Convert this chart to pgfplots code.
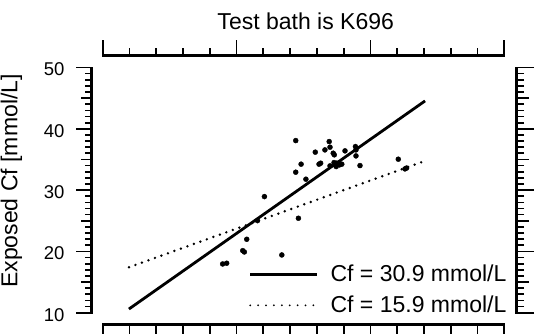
\documentclass[border=0pt]{standalone}
\usepackage{fontspec}
\setmainfont{Liberation Sans}
\usepackage{pgfplots}
\pgfplotsset{compat=1.18}
\usepackage{pgfplotstable}
\pgfplotstableread{
x y
7.21 38.08
8.46 37.92
8.49 37.00
8.30 36.56
7.94 36.19
8.61 36.02
8.65 35.75
9.05 36.40
9.44 37.10
9.46 36.56
9.46 35.58
7.41 34.23
8.08 34.23
8.14 34.39
8.49 33.95
8.64 34.49
8.74 34.39
8.72 33.84
8.84 34.11
8.93 34.23
9.61 34.00
7.21 32.92
7.59 31.78
11.04 35.04
11.29 33.46
11.35 33.60
6.04 28.94
7.31 25.41
5.78 25.02
5.38 21.98
5.23 20.12
5.29 19.91
6.69 19.42
4.48 17.95
4.63 18.07
}\pts
\pgfplotsset{
  ruler/.style={scale only axis, axis line style={line width=1.7pt},
    tick style={black, line width=1.7pt}, tick align=outside,
    /pgf/number format/assume math mode=true}
}
\begin{document}
\begin{tikzpicture}
% data axis
\begin{axis}[at={(102.7pt,20.3pt)}, anchor=south west, scale only axis,
  width=401.6pt, height=245.2pt, xmin=0, xmax=15, ymin=10, ymax=50,
  hide axis, clip=false,
  legend style={draw=none, fill=none, at={(axis cs:5.45,13.75)}, anchor=west,
    font=\fontsize{23}{27}\selectfont, row sep=9pt, column sep=10pt, inner sep=0pt},
  legend cell align=left,
  legend image code/.code={\draw[#1] (0pt,0pt) -- (67pt,0pt);}]
\addplot[only marks, mark=*, mark size=2.5pt, black, forget plot] table[x=x,y=y]{\pts};
\addplot[black, line width=2.8pt, forget plot] coordinates {(0.98,10.6) (12.04,44.55)};
\addplot[black, line width=2.7pt, line cap=round, dash pattern=on 0pt off 6.9pt, forget plot] coordinates {(0.98,17.41) (12.04,34.77)};
\addlegendimage{black, line width=2.8pt}
\addlegendentry{Cf = 30.9 mmol/L}
\addlegendimage{black, line width=2pt, line cap=round, dash pattern=on 0pt off 7.9pt}
\addlegendentry{Cf = 15.9 mmol/L}
\end{axis}
% top ruler
\begin{axis}[ruler, at={(102.7pt,276.8pt)}, anchor=south west, width=401.6pt, height=1pt,
  xmin=0, xmax=15, ymin=0, ymax=1, ytick=\empty, xtick pos=upper,
  xtick={0,5,10,15}, minor xtick={1,...,14}, xticklabels={},
  major tick length=15pt, minor tick length=7pt]
\end{axis}
% bottom ruler
\begin{axis}[ruler, at={(102.7pt,8.2pt)}, anchor=south west, width=401.6pt, height=1pt,
  xmin=0, xmax=15, ymin=0, ymax=1, ytick=\empty, xtick pos=lower,
  xtick={0,5,10,15}, minor xtick={1,...,14}, xticklabels={},
  major tick length=15pt, minor tick length=12pt]
\end{axis}
% left ruler
\begin{axis}[ruler, at={(91pt,20.3pt)}, anchor=south west, width=1pt, height=245.2pt,
  xmin=0, xmax=1, ymin=10, ymax=50, xtick=\empty, ytick pos=left,
  ytick={10,20,30,40,50}, minor ytick={11,...,49},
  extra y ticks={15,25,35,45}, extra y tick labels={},
  extra y tick style={major tick length=10pt},
  major tick length=15pt, minor tick length=6pt,
  yticklabel style={font=\fontsize{18.5}{20}\selectfont, xshift=-8pt, yshift=-2pt}]
\end{axis}
% right ruler
\begin{axis}[ruler, at={(516.2pt,20.3pt)}, anchor=south west, width=1pt, height=245.2pt,
  xmin=0, xmax=1, ymin=10, ymax=50, xtick=\empty, ytick pos=right,
  ytick={10,20,30,40,50}, minor ytick={11,...,49}, yticklabels={},
  extra y ticks={15,25,35,45}, extra y tick labels={},
  extra y tick style={major tick length=12pt},
  major tick length=17pt, minor tick length=7pt]
\end{axis}
\node[anchor=base, font=\fontsize{23}{27}\selectfont, inner sep=0pt] at (305.7pt,303.7pt) {Test bath is K696};
\node[anchor=base, rotate=90, font=\fontsize{23}{27}\selectfont, inner sep=0pt] at (17.3pt,152pt) {Exposed Cf [mmol/L]};
\pgfresetboundingbox
\useasboundingbox (0,0) rectangle (537pt,333pt);
\end{tikzpicture}
\end{document}
